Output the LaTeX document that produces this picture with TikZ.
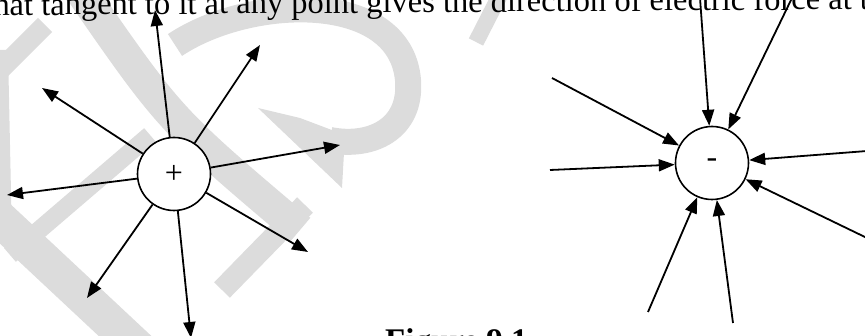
\documentclass[tikz,border=0pt]{standalone}
\usepackage{fontspec}
\setmainfont{Liberation Serif}
\usetikzlibrary{arrows.meta}
\definecolor{wm}{RGB}{220,220,220}
\begin{document}
\begin{tikzpicture}[x=1pt,y=-1pt,
  fl/.style={line width=1.8pt,-{Triangle[length=16pt,width=12pt]}},
  charge/.style={circle,draw,fill=white,line width=1.6pt,inner sep=0pt,minimum size=73pt,font=\fontsize{32}{32}\selectfont},
  wmk/.style={draw=wm,line width=#1},
  txt/.style={anchor=base west,inner sep=0pt,font=\fontsize{32.5}{32.5}\selectfont}]
\useasboundingbox (0,0) rectangle (865,336);
\clip (0,0) rectangle (865,336);
% watermark
\draw[wmk=32pt] (80,-10) .. controls (170,120) .. (300,230);
\draw[wmk=18pt] (10,255) -- (150,135);
\draw[wmk=36pt] (-15,205) -- (140,350);
\draw[wmk=20pt] (-5,75) -- (45,25);
\draw[wmk=16pt] (0,50) -- (4,240);
\draw[wmk=26pt] (175,45) .. controls (250,-5) and (400,-10) .. (408,80) .. controls (412,130) and (370,148) .. (330,140);
\fill[wm] (258,108) -- (300,118) -- (345,135) -- (342,188) -- cycle;
\draw[wmk=22pt] (305,205) -- (222,290);
\draw[wmk=16pt] (500,-5) -- (476,42);
% text
\node[txt,rotate=0.4] (top) at (-6.7,15.5) {hat tangent to it at any point gives the direction of electric force at t};
\node[txt,font=\bfseries\fontsize{33}{33}\selectfont] (fig) at (385,352) {Figure 9.1};
% positive charge
\node[charge] (P) at (174,174) {+};
\coordinate (pu) at (155,10);
\coordinate (pur) at (260,45);
\coordinate (pul) at (42,88);
\coordinate (pl) at (7,195);
\coordinate (pr) at (340,145);
\coordinate (plr) at (308,252);
\coordinate (pll) at (87,298);
\coordinate (pd) at (191,338);
\foreach \t in {pu,pur,pul,pl,pr,plr,pll,pd} \draw[fl] (P) -- (\t);
% negative charge
\node[charge] (N) at (712,163) {-};
\coordinate (nt) at (700,-2);
\coordinate (ntr) at (792,-2);
\coordinate (nul) at (552,78);
\coordinate (nl) at (550,170);
\coordinate (nr) at (867,151);
\coordinate (nlr) at (867,238);
\coordinate (nll) at (648,312);
\coordinate (nb) at (733,323);
\foreach \s in {nt,ntr,nul,nl,nr,nlr,nll,nb} \draw[fl] (\s) -- (N);
\end{tikzpicture}
\end{document}
